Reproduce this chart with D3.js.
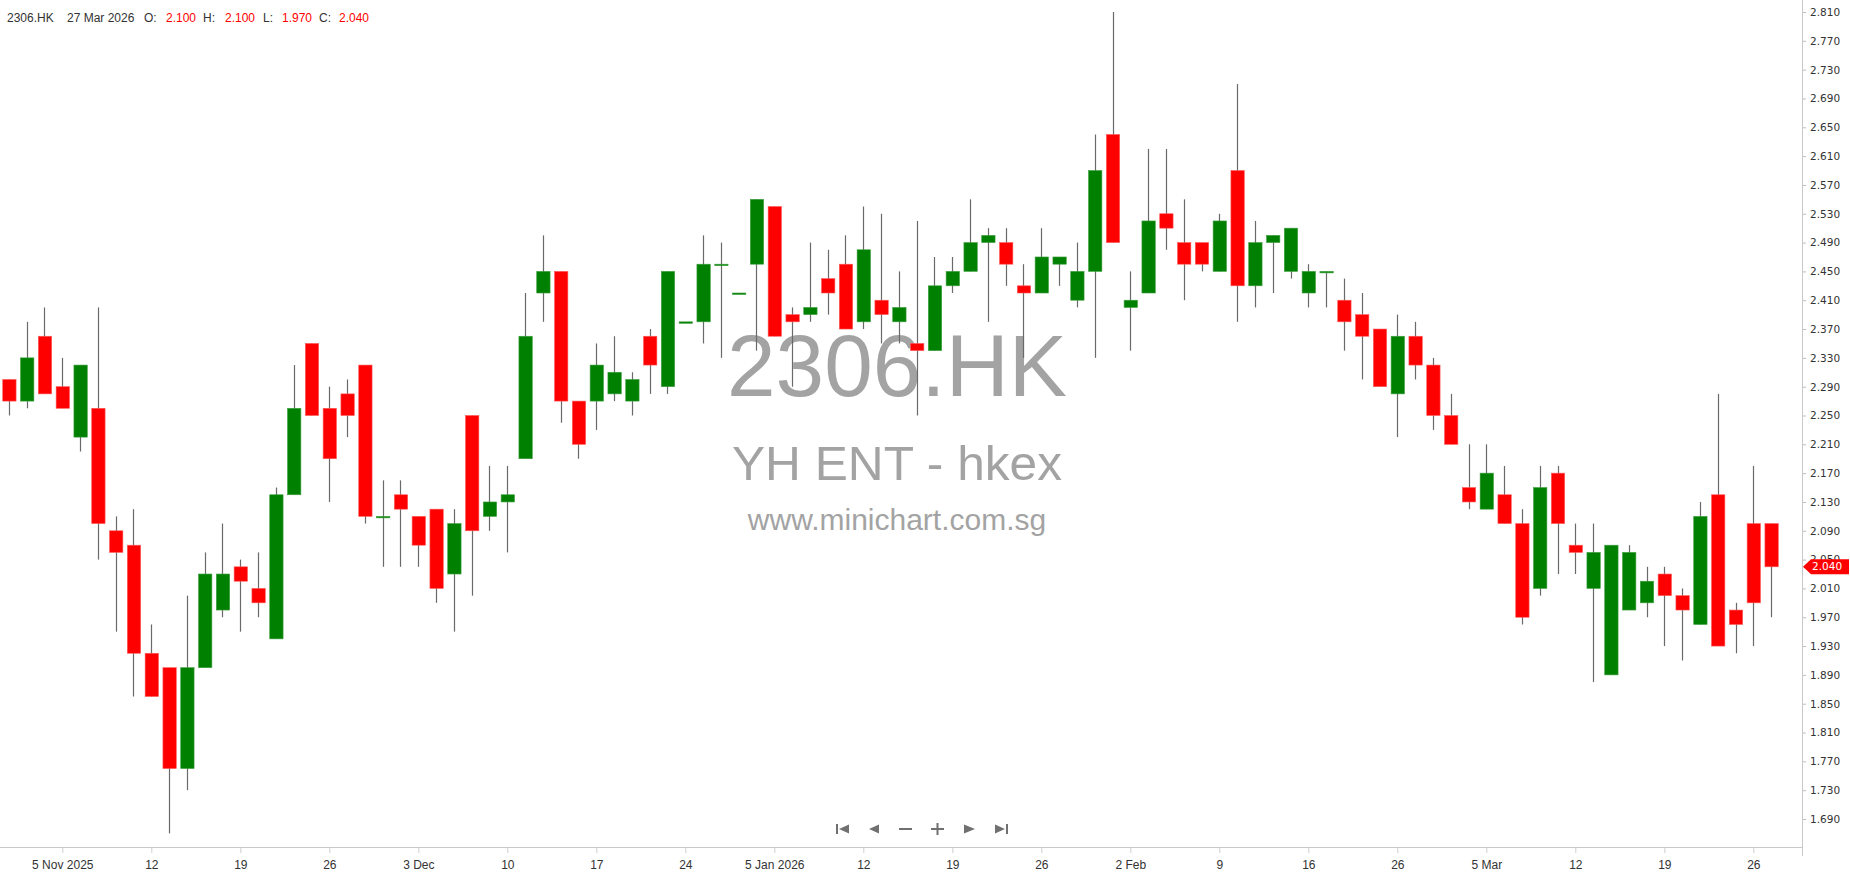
<!DOCTYPE html>
<html>
<head>
<meta charset="utf-8">
<script src="https://cdn.jsdelivr.net/npm/d3@7"></script>
<style>
    html, body { margin: 0; padding: 0; background: #fff; overflow: hidden; }
    svg { display: block; }
</style>
</head>
<body>
<div id="chart"></div>
<script>
/*global d3 */

//*************************1. Data

const ticker = "2306.HK"
const companyName = "YH ENT - hkex"
const siteName = "www.minichart.com.sg"

const dates = [
    "2025-10-31",
    "2025-11-03", "2025-11-04", "2025-11-05", "2025-11-06", "2025-11-07",
    "2025-11-10", "2025-11-11", "2025-11-12", "2025-11-13", "2025-11-14",
    "2025-11-17", "2025-11-18", "2025-11-19", "2025-11-20", "2025-11-21",
    "2025-11-24", "2025-11-25", "2025-11-26", "2025-11-27", "2025-11-28",
    "2025-12-01", "2025-12-02", "2025-12-03", "2025-12-04", "2025-12-05",
    "2025-12-08", "2025-12-09", "2025-12-10", "2025-12-11", "2025-12-12",
    "2025-12-15", "2025-12-16", "2025-12-17", "2025-12-18", "2025-12-19",
    "2025-12-22", "2025-12-23", "2025-12-24", "2025-12-29", "2025-12-30",
    "2025-12-31", "2026-01-02",
    "2026-01-05", "2026-01-06", "2026-01-07", "2026-01-08", "2026-01-09",
    "2026-01-12", "2026-01-13", "2026-01-14", "2026-01-15", "2026-01-16",
    "2026-01-19", "2026-01-20", "2026-01-21", "2026-01-22", "2026-01-23",
    "2026-01-26", "2026-01-27", "2026-01-28", "2026-01-29", "2026-01-30",
    "2026-02-02", "2026-02-03", "2026-02-04", "2026-02-05", "2026-02-06",
    "2026-02-09", "2026-02-10", "2026-02-11", "2026-02-12", "2026-02-13",
    "2026-02-16", "2026-02-20", "2026-02-23", "2026-02-24", "2026-02-25",
    "2026-02-26", "2026-02-27", "2026-03-02", "2026-03-03", "2026-03-04",
    "2026-03-05", "2026-03-06", "2026-03-09", "2026-03-10", "2026-03-11",
    "2026-03-12", "2026-03-13", "2026-03-16", "2026-03-17", "2026-03-18",
    "2026-03-19", "2026-03-20", "2026-03-23", "2026-03-24", "2026-03-25",
    "2026-03-26", "2026-03-27"
]

const openPrices = [
    2.30, 2.27, 2.36, 2.29, 2.22, 2.26, 2.09, 2.07, 1.92, 1.90,
    1.76, 1.90, 1.98, 2.04, 2.01, 1.94, 2.14, 2.35, 2.26, 2.28,
    2.32, 2.11, 2.14, 2.11, 2.12, 2.03, 2.25, 2.11, 2.13, 2.19,
    2.42, 2.45, 2.27, 2.27, 2.28, 2.27, 2.36, 2.29, 2.38, 2.38,
    2.46, 2.42, 2.46, 2.54, 2.39, 2.39, 2.44, 2.46, 2.38, 2.41,
    2.38, 2.35, 2.34, 2.43, 2.45, 2.49, 2.49, 2.43, 2.42, 2.46,
    2.41, 2.45, 2.64, 2.40, 2.42, 2.53, 2.49, 2.49, 2.45, 2.59,
    2.43, 2.49, 2.45, 2.42, 2.45, 2.41, 2.39, 2.37, 2.28, 2.36,
    2.32, 2.25, 2.15, 2.12, 2.14, 2.10, 2.01, 2.17, 2.07, 2.01,
    1.89, 1.98, 1.99, 2.03, 2.00, 1.96, 2.14, 1.98, 2.10, 2.10
]

const highPrices = [
    2.30, 2.38, 2.40, 2.33, 2.32, 2.40, 2.11, 2.12, 1.96, 1.90,
    2.00, 2.06, 2.10, 2.05, 2.06, 2.15, 2.32, 2.35, 2.29, 2.30,
    2.32, 2.16, 2.16, 2.11, 2.12, 2.12, 2.25, 2.18, 2.18, 2.42,
    2.50, 2.45, 2.27, 2.35, 2.36, 2.31, 2.37, 2.45, 2.38, 2.50,
    2.49, 2.42, 2.55, 2.54, 2.40, 2.49, 2.48, 2.50, 2.54, 2.53,
    2.45, 2.52, 2.47, 2.47, 2.55, 2.51, 2.51, 2.46, 2.51, 2.47,
    2.49, 2.64, 2.81, 2.45, 2.62, 2.62, 2.55, 2.49, 2.53, 2.71,
    2.52, 2.50, 2.51, 2.46, 2.45, 2.44, 2.42, 2.37, 2.39, 2.38,
    2.33, 2.28, 2.21, 2.21, 2.18, 2.12, 2.18, 2.18, 2.10, 2.10,
    2.07, 2.07, 2.04, 2.04, 2.01, 2.13, 2.28, 1.99, 2.18, 2.10
]

const lowPrices = [
    2.25, 2.26, 2.28, 2.26, 2.20, 2.05, 1.95, 1.86, 1.86, 1.67,
    1.73, 1.90, 1.97, 1.95, 1.97, 1.94, 2.14, 2.25, 2.13, 2.22,
    2.10, 2.04, 2.04, 2.04, 1.99, 1.95, 2.00, 2.09, 2.06, 2.19,
    2.38, 2.24, 2.19, 2.23, 2.27, 2.25, 2.28, 2.28, 2.38, 2.35,
    2.33, 2.42, 2.34, 2.36, 2.29, 2.38, 2.39, 2.37, 2.37, 2.35,
    2.35, 2.25, 2.34, 2.42, 2.45, 2.38, 2.43, 2.33, 2.42, 2.43,
    2.40, 2.33, 2.49, 2.34, 2.42, 2.48, 2.41, 2.45, 2.45, 2.38,
    2.40, 2.42, 2.44, 2.40, 2.40, 2.34, 2.30, 2.29, 2.22, 2.30,
    2.23, 2.21, 2.12, 2.12, 2.10, 1.96, 2.00, 2.03, 2.03, 1.88,
    1.89, 1.98, 1.97, 1.93, 1.91, 1.96, 1.93, 1.92, 1.93, 1.97
]

const closePrices = [
    2.27, 2.33, 2.28, 2.26, 2.32, 2.10, 2.06, 1.92, 1.86, 1.76,
    1.90, 2.03, 2.03, 2.02, 1.99, 2.14, 2.26, 2.25, 2.19, 2.25,
    2.11, 2.11, 2.12, 2.07, 2.01, 2.10, 2.09, 2.13, 2.14, 2.36,
    2.45, 2.27, 2.21, 2.32, 2.31, 2.30, 2.32, 2.45, 2.38, 2.46,
    2.46, 2.42, 2.55, 2.36, 2.38, 2.40, 2.42, 2.37, 2.48, 2.39,
    2.40, 2.34, 2.43, 2.45, 2.49, 2.50, 2.46, 2.42, 2.47, 2.47,
    2.45, 2.59, 2.49, 2.41, 2.52, 2.51, 2.46, 2.46, 2.52, 2.43,
    2.49, 2.50, 2.51, 2.45, 2.45, 2.38, 2.36, 2.29, 2.36, 2.32,
    2.25, 2.21, 2.13, 2.17, 2.10, 1.97, 2.15, 2.10, 2.06, 2.06,
    2.07, 2.06, 2.02, 2.00, 1.98, 2.11, 1.93, 1.96, 1.99, 2.04
]

const tickDates = [
    "2025-11-05", "2025-11-12", "2025-11-19", "2025-11-26", "2025-12-03",
    "2025-12-10", "2025-12-17", "2025-12-24", "2026-01-05", "2026-01-12",
    "2026-01-19", "2026-01-26", "2026-02-02", "2026-02-09", "2026-02-16",
    "2026-02-26", "2026-03-05", "2026-03-12", "2026-03-19", "2026-03-26"
]
const tickLabels = [
    "5 Nov 2025", "12", "19", "26", "3 Dec", "10", "17", "24", "5 Jan 2026", "12",
    "19", "26", "2 Feb", "9", "16", "26", "5 Mar", "12", "19", "26"
]

const priceTicks = [
    1.69, 1.73, 1.77, 1.81, 1.85, 1.89, 1.93, 1.97, 2.01, 2.05,
    2.09, 2.13, 2.17, 2.21, 2.25, 2.29, 2.33, 2.37, 2.41, 2.45,
    2.49, 2.53, 2.57, 2.61, 2.65, 2.69, 2.73, 2.77, 2.81
]

const candles = dates.map((d, i) => ({
    date: d,
    open: openPrices[i],
    high: highPrices[i],
    low: lowPrices[i],
    close: closePrices[i]
}))

//*************************2. Dimensions

const dimensions = {
    width: 1850,
    height: 874,
    plotRight: 1780.5,
    axisX: 1802,
    axisY: 847
}

const upColor = "#008000"
const downColor = "#ff0000"
const wickColor = "#6a6a6a"
const greyText = "#333333"

//*************************3. Wrapper

const wrapper = d3.select("#chart")
    .append("svg")
    .attr("width", dimensions.width)
    .attr("height", dimensions.height)
    .style("font-family", "'Liberation Sans', Arial, sans-serif")

//*************************4. Scales

const xScale = d3.scaleBand()
    .domain(dates)
    .range([0.5, dimensions.plotRight])
    .paddingInner(0.25)
    .paddingOuter(0.125)

const yScale = d3.scaleLinear()
    .domain([1.69, 2.81])
    .range([819, 12])

const xCenter = d => xScale(d.date) + xScale.bandwidth() / 2

//*************************5. Watermark

const watermark = wrapper.append("g")
    .attr("fill", "#a3a3a3")
    .attr("text-anchor", "middle")

watermark.append("text")
    .attr("x", 897)
    .attr("y", 396)
    .style("font-size", "87px")
    .attr("textLength", 340)
    .attr("lengthAdjust", "spacingAndGlyphs")
    .text(ticker)

watermark.append("text")
    .attr("x", 897)
    .attr("y", 480)
    .style("font-size", "49px")
    .attr("textLength", 330)
    .attr("lengthAdjust", "spacingAndGlyphs")
    .text(companyName)

watermark.append("text")
    .attr("x", 897)
    .attr("y", 530)
    .style("font-size", "30px")
    .text(siteName)

//*************************6. Candles

const candleGroup = wrapper.append("g")

candleGroup.selectAll(".wick")
    .data(candles)
    .join("line")
    .attr("class", "wick")
    .attr("x1", d => Math.floor(xCenter(d)) + 0.5)
    .attr("x2", d => Math.floor(xCenter(d)) + 0.5)
    .attr("y1", d => yScale(d.high))
    .attr("y2", d => yScale(d.low))
    .attr("stroke", wickColor)
    .attr("stroke-width", 1.2)

candleGroup.selectAll(".body")
    .data(candles)
    .join("rect")
    .attr("class", "body")
    .attr("x", d => xScale(d.date))
    .attr("width", xScale.bandwidth())
    .attr("y", d => yScale(Math.max(d.open, d.close)))
    .attr("height", d => Math.max(1.5, Math.abs(yScale(d.open) - yScale(d.close))))
    .attr("fill", d => d.close >= d.open ? upColor : downColor)
    .attr("stroke", d => d.close >= d.open ? "#3f9f3f" : "#ff5a5a")
    .attr("stroke-width", 0.6)

//*************************7. Axes

const xAxisGenerator = d3.axisBottom(xScale)
    .tickValues(tickDates)
    .tickFormat((d, i) => tickLabels[i])
    .tickSize(6)
    .tickSizeOuter(0)

const xAxis = wrapper.append("g")
    .attr("transform", `translate(0,${dimensions.axisY})`)
    .call(xAxisGenerator)

xAxis.select(".domain").remove()
xAxis.selectAll(".tick line").attr("stroke", "#d0d0d0")
xAxis.selectAll(".tick text")
    .attr("y", 13)
    .attr("fill", greyText)
    .style("font-size", "12px")
    .style("font-family", "'Liberation Sans', Arial, sans-serif")

wrapper.append("line")
    .attr("x1", 0)
    .attr("x2", dimensions.axisX)
    .attr("y1", dimensions.axisY + 0.5)
    .attr("y2", dimensions.axisY + 0.5)
    .attr("stroke", "#c8c8c8")

const yAxisGenerator = d3.axisRight(yScale)
    .tickValues(priceTicks)
    .tickFormat(d3.format(".3f"))
    .tickSize(4)
    .tickPadding(4)

const yAxis = wrapper.append("g")
    .attr("transform", `translate(${dimensions.axisX},0)`)
    .call(yAxisGenerator)

yAxis.select(".domain").remove()
yAxis.selectAll(".tick line").attr("stroke", "#bdbdbd")
yAxis.selectAll(".tick text")
    .attr("fill", greyText)
    .style("font-size", "10.5px")
    .style("font-family", "'DejaVu Sans', Verdana, sans-serif")

wrapper.append("line")
    .attr("x1", dimensions.axisX + 0.5)
    .attr("x2", dimensions.axisX + 0.5)
    .attr("y1", 0)
    .attr("y2", 856)
    .attr("stroke", "#c8c8c8")

//----------------------last price marker
const last = candles[candles.length - 1]
const yLast = yScale(last.close)

wrapper.append("path")
    .attr("d", `M${dimensions.axisX + 1},${yLast} L${dimensions.axisX + 9},${yLast - 7.5} L1849,${yLast - 7.5} L1849,${yLast + 7.5} L${dimensions.axisX + 9},${yLast + 7.5} Z`)
    .attr("fill", downColor)

wrapper.append("text")
    .attr("x", dimensions.axisX + 10)
    .attr("y", yLast)
    .attr("dy", "0.35em")
    .attr("fill", "#ffffff")
    .style("font-size", "10.5px")
    .style("font-family", "'DejaVu Sans', Verdana, sans-serif")
    .text(d3.format(".3f")(last.close))

//*************************8. Header

const header = wrapper.append("g")
    .style("font-size", "12px")
    .attr("transform", "translate(0,22)")

const fmt = d3.format(".3f")
const headerParts = [
    { x: 7, text: ticker, color: greyText },
    { x: 67, text: "27 Mar 2026", color: greyText },
    { x: 144, text: "O:", color: greyText },
    { x: 166, text: fmt(last.open), color: downColor },
    { x: 203, text: "H:", color: greyText },
    { x: 225, text: fmt(last.high), color: downColor },
    { x: 263, text: "L:", color: greyText },
    { x: 282, text: fmt(last.low), color: downColor },
    { x: 319, text: "C:", color: greyText },
    { x: 339, text: fmt(last.close), color: downColor }
]

header.selectAll("text")
    .data(headerParts)
    .join("text")
    .attr("x", d => d.x)
    .attr("fill", d => d.color)
    .text(d => d.text)

//*************************9. Navigation buttons

const nav = wrapper.append("g")
    .attr("fill", "#707070")
    .attr("transform", "translate(0,829)")

nav.append("rect").attr("x", 836).attr("y", -5).attr("width", 2).attr("height", 10)
nav.append("path").attr("d", "M849,-4.5 L839,0 L849,4.5 Z")
nav.append("path").attr("d", "M879,-4.5 L869,0 L879,4.5 Z")
nav.append("rect").attr("x", 899).attr("y", -1).attr("width", 13).attr("height", 2)
nav.append("rect").attr("x", 931).attr("y", -1).attr("width", 13).attr("height", 2)
nav.append("rect").attr("x", 936.5).attr("y", -6).attr("width", 2).attr("height", 12)
nav.append("path").attr("d", "M964,-4.5 L975,0 L964,4.5 Z")
nav.append("path").attr("d", "M995,-4.5 L1005,0 L995,4.5 Z")
nav.append("rect").attr("x", 1006).attr("y", -5).attr("width", 2).attr("height", 10)
</script>
</body>
</html>
